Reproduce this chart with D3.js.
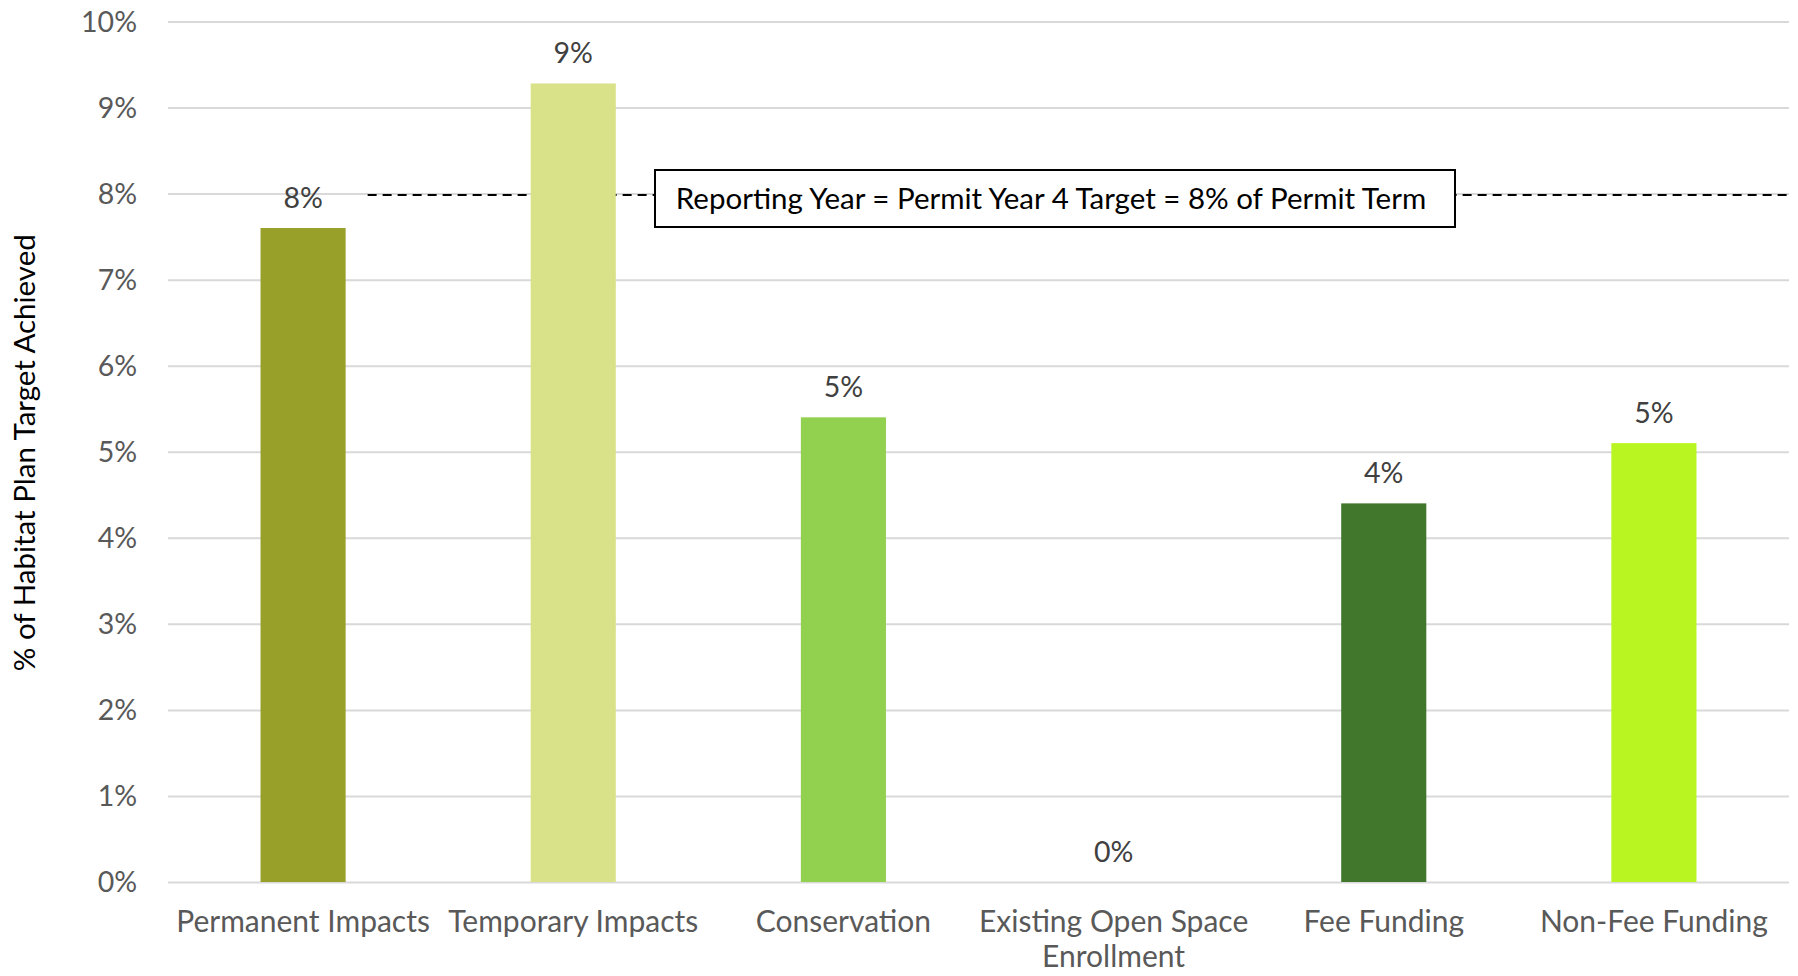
<!DOCTYPE html>
<html>
<head>
<meta charset="utf-8">
<script src="https://cdn.jsdelivr.net/npm/d3@7"></script>
<style>
  html, body { margin: 0; padding: 0; background: #ffffff; }
  svg { display: block; }
  text { font-family: "Lato", "Open Sans", sans-serif; }
</style>
</head>
<body>
<svg id="chart" width="1798" height="976"></svg>
<script>
// Habitat plan progress by category, as a percentage of the permit-term target
const categories = [
  "Permanent Impacts",
  "Temporary Impacts",
  "Conservation",
  "Existing Open Space Enrollment",
  "Fee Funding",
  "Non-Fee Funding"
];
// Axis labels for each category; "\n" breaks a label onto a second line
const categoryLabels = [
  "Permanent Impacts",
  "Temporary Impacts",
  "Conservation",
  "Existing Open Space\nEnrollment",
  "Fee Funding",
  "Non-Fee Funding"
];
const percentAchieved = [7.6, 9.28, 5.4, 0, 4.4, 5.1];
const barColors = ["#98A02A", "#D9E288", "#92D050", "#A6A6A6", "#41772C", "#B9F520"];
const yTicks = [0, 1, 2, 3, 4, 5, 6, 7, 8, 9, 10];
const targetValue = 8;
const targetLabel = "Reporting Year = Permit Year 4 Target = 8% of Permit Term";
const yAxisTitle = "% of Habitat Plan Target Achieved";

const svg = d3.select("#chart");
const plot = { left: 168, right: 1789, top: 21.5, bottom: 882 };

const x = d3.scaleBand()
  .domain(categories)
  .range([plot.left, plot.right])
  .paddingInner(0.685)
  .paddingOuter(0.3425);

const y = d3.scaleLinear()
  .domain([0, 10])
  .range([plot.bottom, plot.top]);

const pct = d => d3.format(".0f")(d) + "%";

// Horizontal gridlines with tick labels on the left
const yAxis = svg.append("g")
  .attr("transform", `translate(${plot.left},0)`)
  .call(d3.axisLeft(y).tickValues(yTicks).tickFormat(d => d + "%")
    .tickSize(-(plot.right - plot.left)).tickPadding(31));
yAxis.select(".domain").remove();
yAxis.selectAll(".tick line").attr("stroke", "#d9d9d9").attr("stroke-width", 2);
yAxis.selectAll(".tick text")
  .attr("fill", "#595959")
  .attr("font-size", 28.5)
  .attr("dy", "0.34em");

// Target reference line (drawn beneath the bars)
const lineStart = x(categories[0]) + x.bandwidth() + 22;
svg.append("line")
  .attr("x1", lineStart)
  .attr("x2", plot.right)
  .attr("y1", y(targetValue) + 1.5)
  .attr("y2", y(targetValue) + 1.5)
  .attr("stroke", "#000")
  .attr("stroke-width", 2)
  .attr("stroke-dasharray", "9,6");

// Bars
svg.append("g").selectAll("rect")
  .data(categories)
  .join("rect")
  .attr("x", d => x(d))
  .attr("width", x.bandwidth())
  .attr("y", (d, i) => y(percentAchieved[i]))
  .attr("height", (d, i) => y(0) - y(percentAchieved[i]))
  .attr("fill", (d, i) => barColors[i]);

// Value labels above the bars
svg.append("g").selectAll("text")
  .data(categories)
  .join("text")
  .attr("x", d => x(d) + x.bandwidth() / 2)
  .attr("y", (d, i) => y(percentAchieved[i]) - 30)
  .attr("dy", "0.35em")
  .attr("text-anchor", "middle")
  .attr("fill", "#404040")
  .attr("font-size", 28.5)
  .text((d, i) => pct(percentAchieved[i]));

// Category labels under the axis
const xLabels = svg.append("g").selectAll("text")
  .data(categories)
  .join("text")
  .attr("x", d => x(d) + x.bandwidth() / 2)
  .attr("y", 921)
  .attr("text-anchor", "middle")
  .attr("fill", "#595959")
  .attr("font-size", 30);
xLabels.each(function(d, i) {
  const lines = categoryLabels[i].split("\n");
  d3.select(this).selectAll("tspan")
    .data(lines)
    .join("tspan")
    .attr("x", x(d) + x.bandwidth() / 2)
    .attr("dy", (l, j) => j === 0 ? "0.35em" : "1.18em")
    .text(l => l);
});

// Annotation box for the target line
const box = { x: 655, y: 170, w: 800, h: 57 };
svg.append("rect")
  .attr("x", box.x).attr("y", box.y)
  .attr("width", box.w).attr("height", box.h)
  .attr("fill", "#fff")
  .attr("stroke", "#000")
  .attr("stroke-width", 2);
svg.append("text")
  .attr("x", box.x + box.w / 2 - 4)
  .attr("y", box.y + box.h / 2)
  .attr("dy", "0.35em")
  .attr("text-anchor", "middle")
  .attr("fill", "#000")
  .attr("font-size", 29.5)
  .text(targetLabel);

// Y-axis title
svg.append("text")
  .attr("transform", `translate(25, ${(plot.top + plot.bottom) / 2 + 1}) rotate(-90)`)
  .attr("dy", "0.35em")
  .attr("text-anchor", "middle")
  .attr("fill", "#000")
  .attr("font-size", 29.5)
  .text(yAxisTitle);
</script>
</body>
</html>
